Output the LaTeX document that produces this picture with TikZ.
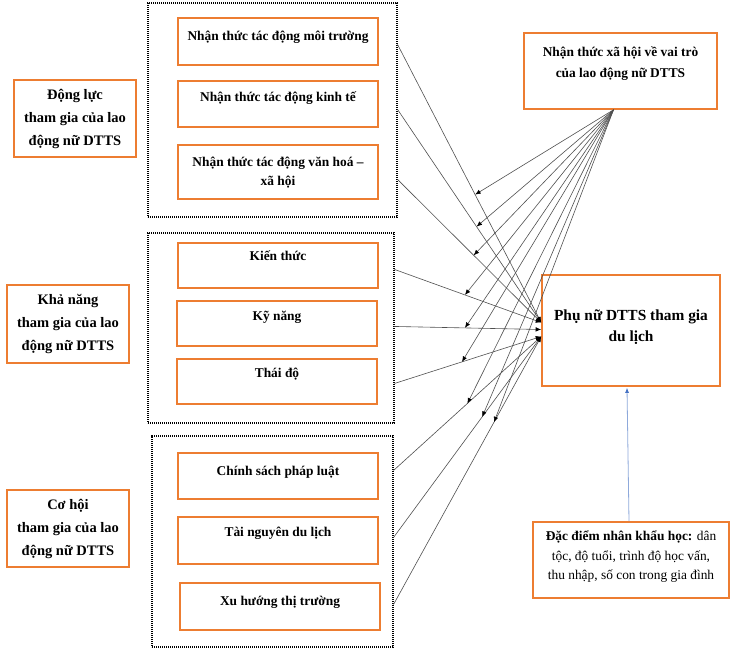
\documentclass[tikz,border=0pt]{standalone}
\usepackage{fontspec}
\setmainfont{Liberation Serif}
\usetikzlibrary{arrows.meta,calc}
\definecolor{orng}{HTML}{ED7D31}
\definecolor{lnk}{HTML}{505050}
\definecolor{blu}{HTML}{8EA9DB}
\definecolor{bluh}{HTML}{4472C4}
\begin{document}
\begin{tikzpicture}[x=1pt,y=-1pt,
  obox/.style={draw=orng, line width=1.6pt, fill=white, inner sep=0pt},
  dotframe/.style={draw=black, line width=1.1pt, dash pattern=on 1.1pt off 0.9pt, inner sep=0pt},
  lbl/.style={font=\bfseries\fontsize{13.4}{19}\selectfont, align=center, inner sep=0pt},
  lblL/.style={font=\bfseries\fontsize{14.5}{23}\selectfont, align=center},
  lblM/.style={font=\bfseries\fontsize{13.4}{21}\selectfont, align=center, inner sep=0pt},
  lblP/.style={font=\bfseries\fontsize{15.4}{21}\selectfont, align=center, inner sep=0pt},
  lblD/.style={font=\fontsize{13.4}{19.5}\selectfont, align=center, inner sep=0pt},
  link/.style={draw=lnk, line width=0.6pt, -{Latex[length=5.5pt,width=4.5pt,color=black]}},
  bluelink/.style={draw=blu, line width=0.8pt, -{Latex[length=5pt,width=4pt,color=bluh]}}
]
\fill[white] (0,0) rectangle (731,649);
\useasboundingbox (0,0) rectangle (731,649);

% left boxes
\node[obox, lblL, minimum width=122pt, minimum height=77pt] (L1) at (75,118.5) {Động lực\\tham gia của lao\\động nữ DTTS};
\node[obox, lblL, minimum width=122pt, minimum height=78pt] (L2) at (68,324) {Khả năng\\tham gia của lao\\động nữ DTTS};
\node[obox, lblL, minimum width=122pt, minimum height=77pt] (L3) at (68,528.5) {Cơ hội\\tham gia của lao\\động nữ DTTS};

% dotted frames
\node[dotframe, minimum width=249pt, minimum height=214pt] (F1) at (272.5,110) {};
\node[dotframe, minimum width=246pt, minimum height=190pt] (F2) at (271,328) {};
\node[dotframe, minimum width=241pt, minimum height=211pt] (F3) at (272.5,541.5) {};

% inner boxes
\node[obox, minimum width=200pt, minimum height=47pt] (I1) at (278,41.5) {};
\node[obox, minimum width=200pt, minimum height=46pt] (I2) at (278,104) {};
\node[obox, minimum width=200pt, minimum height=54pt] (I3) at (278,172) {};
\node[obox, minimum width=200pt, minimum height=45pt] (I4) at (278,265.5) {};
\node[obox, minimum width=200pt, minimum height=45pt] (I5) at (277,323.5) {};
\node[obox, minimum width=200pt, minimum height=45pt] (I6) at (277,381.5) {};
\node[obox, minimum width=200pt, minimum height=46pt] (I7) at (278,476) {};
\node[obox, minimum width=200pt, minimum height=47pt] (I8) at (278,540.5) {};
\node[obox, minimum width=200pt, minimum height=47pt] (I9) at (280,606.5) {};

\node[lbl, anchor=base] (T1) at ($(I1.north)+(0,23)$) {Nhận thức tác động môi trường};
\node[lbl, anchor=base] (T2) at ($(I2.north)+(0,21)$) {Nhận thức tác động kinh tế};
\node[lbl, anchor=base] (T3) at ($(I3.north)+(0,41)$) {Nhận thức tác động văn hoá –\\xã hội};
\node[lbl, anchor=base] (T4) at ($(I4.north)+(0,18)$) {Kiến thức};
\node[lbl, anchor=base] (T5) at ($(I5.north)+(0,20)$) {Kỹ năng};
\node[lbl, anchor=base] (T6) at ($(I6.north)+(0,19)$) {Thái độ};
\node[lbl, anchor=base] (T7) at ($(I7.north)+(0,23)$) {Chính sách pháp luật};
\node[lbl, anchor=base] (T8) at ($(I8.north)+(0,20)$) {Tài nguyên du lịch};
\node[lbl, anchor=base] (T9) at ($(I9.north)+(0,23)$) {Xu hướng thị trường};

% right boxes
\node[obox, minimum width=193pt, minimum height=76pt] (M) at (620.5,71) {};
\node[lblM, anchor=base] (MT) at ($(M.north)+(0,45)$) {Nhận thức xã hội về vai trò\\của lao động nữ DTTS};

\node[obox, minimum width=178pt, minimum height=111pt] (P) at (631,330.5) {};
\node[lblP, anchor=base] (PT) at ($(P.north)+(0,67)$) {Phụ nữ DTTS tham gia\\du lịch};

\node[obox, minimum width=196pt, minimum height=76pt] (D) at (631,560) {};
\node[lblD] (DT) at ($(D.center)+(0,-3)$) {\textbf{Đặc điểm nhân khẩu học:} dân\\tộc, độ tuổi, trình độ học vấn,\\thu nhập, số con trong gia đình};

% connector coordinates
\coordinate (s1) at ($(F1.north east)+(0,42)$);
\coordinate (s2) at ($(F1.north east)+(0,107)$);
\coordinate (s3) at ($(F1.north east)+(0,177)$);
\coordinate (s4) at ($(F2.north east)+(0,37)$);
\coordinate (s5) at ($(F2.north east)+(0,94)$);
\coordinate (s6) at ($(F2.north east)+(0,151)$);
\coordinate (s7) at ($(F3.north east)+(0,35)$);
\coordinate (s8) at ($(F3.north east)+(0,102)$);
\coordinate (s9) at ($(F3.north east)+(0,169)$);
\coordinate (ta) at ($(P.west)+(0,-8)$);
\coordinate (tb) at ($(P.west)+(0,-1)$);
\coordinate (tc) at ($(P.west)+(0,6)$);
\coordinate (ms) at ($(M.south)+(-7,0)$);

\coordinate (m1) at ($(s1)!0.54!(ta)$);
\coordinate (m2) at ($(s2)!0.55!(ta)$);
\coordinate (m3) at ($(s3)!0.53!(ta)$);
\coordinate (m4) at ($(s4)!0.48!(ta)$);
\coordinate (m5) at ($(s5)!0.48!(tb)$);
\coordinate (m6) at ($(s6)!0.46!(tc)$);
\coordinate (m7) at ($(s7)!0.50!(tc)$);
\coordinate (m8) at ($(s8)!0.60!(tc)$);
\coordinate (m9) at ($(s9)!0.68!(tc)$);

% main links
\draw[link] (s1) -- (ta);
\draw[link] (s2) -- (ta);
\draw[link] (s3) -- (ta);
\draw[link] (s4) -- (ta);
\draw[link] (s5) -- (tb);
\draw[link] (s6) -- (tc);
\draw[link] (s7) -- (tc);
\draw[link] (s8) -- (tc);
\draw[link] (s9) -- (tc);

% moderator links
\foreach \i in {1,...,9} {\draw[link] (ms) -- (m\i);}

% demographic link
\draw[bluelink] ($(D.north)+(-2,0)$) -- ($(P.south)+(-4,1)$);
\end{tikzpicture}
\end{document}
